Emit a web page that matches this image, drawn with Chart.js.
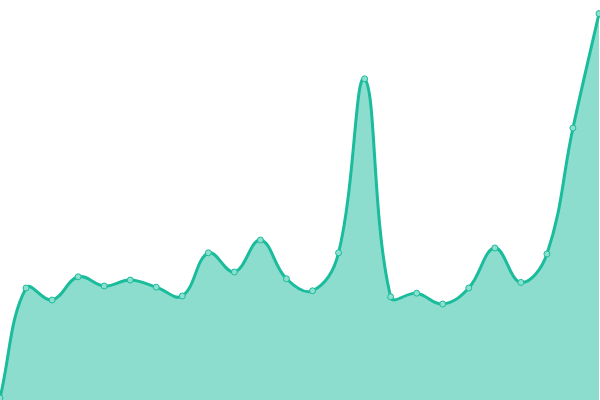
<!DOCTYPE html>
<html>
<head>
<meta charset="utf-8">
<script src="https://cdn.jsdelivr.net/npm/chart.js@4"></script>
<style>
	html, body { margin: 0; padding: 0; background: #fff; }
	#wrap { width: 600px; height: 400px; }
</style>
</head>
<body>
<div id="wrap"><canvas id="myChart" width="600" height="400"></canvas></div>
<script>
// 데이터
const labels = ['1', '2', '3', '4', '5', '6', '7', '8', '9', '10', '11', '12',
	'13', '14', '15', '16', '17', '18', '19', '20', '21', '22', '23', '24'];
const values = [0.5, 28, 25, 30.8, 28.5, 30, 28.2, 26, 36.8, 32, 40, 30.3,
	27.3, 36.8, 80.3, 25.8, 26.7, 24, 28, 38, 29.4, 36.5, 68, 96.6];
const yMin = 0;
const yMax = 100;

let ctx = document.getElementById('myChart').getContext('2d');
let myChart = new Chart(ctx, {
	type: 'line',
	data: {
		labels: labels,
		datasets: [{
			data: values,
			fill: true,
			backgroundColor: 'rgba(26, 188, 156, 0.5)',
			borderColor: '#1abc9c',
			borderWidth: 3,
			tension: 0.4,
			pointRadius: 3,
			pointBorderWidth: 1,
			pointBackgroundColor: '#8de0cf',
			pointBorderColor: '#1abc9c'
		}]
	},
	options: {
		responsive: false,
		animation: false,
		layout: { autoPadding: false, padding: { right: 1 } },
		plugins: {
			legend: { display: false },
			tooltip: { enabled: false }
		},
		scales: {
			x: { display: false },
			y: { display: false, min: yMin, max: yMax }
		}
	}
}); // new Chart
</script>
</body>
</html>
